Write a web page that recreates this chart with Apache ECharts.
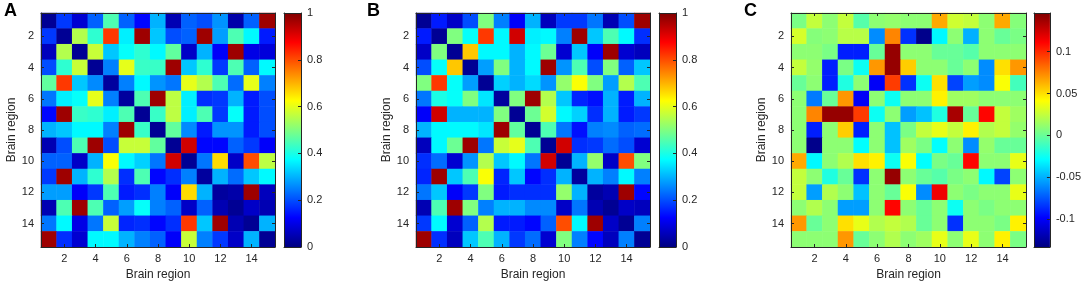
<!DOCTYPE html>
<html><head><meta charset="utf-8">
<script src="https://cdn.jsdelivr.net/npm/echarts@6/dist/echarts.min.js"></script>
<style>html,body{margin:0;padding:0;background:#fff}#c{width:1084px;height:288px}</style>
</head><body><div id="c"></div>
<script>
// ---------- data ----------
const regions = ['1','2','3','4','5','6','7','8','9','10','11','12','13','14','15'];
const panelLetters = ['A', 'B', 'C'];
const axisTitle = 'Brain region';

const matA = [
  [0.02,0.18,0.08,0.22,0.45,0.22,0.13,0.30,0.05,0.22,0.20,0.27,0.04,0.22,0.97],
  [0.18,0.02,0.55,0.42,0.82,0.36,0.97,0.32,0.20,0.22,0.97,0.28,0.45,0.37,0.15],
  [0.06,0.55,0.02,0.57,0.32,0.38,0.42,0.37,0.47,0.07,0.30,0.12,0.97,0.10,0.09],
  [0.20,0.42,0.57,0.02,0.25,0.60,0.43,0.43,0.97,0.32,0.42,0.18,0.45,0.22,0.37],
  [0.47,0.82,0.32,0.26,0.03,0.25,0.37,0.27,0.24,0.60,0.55,0.45,0.23,0.60,0.25],
  [0.24,0.36,0.38,0.60,0.25,0.03,0.45,0.97,0.56,0.36,0.17,0.18,0.30,0.15,0.20],
  [0.13,0.97,0.43,0.42,0.36,0.45,0.02,0.43,0.56,0.36,0.45,0.18,0.38,0.15,0.20],
  [0.30,0.32,0.37,0.37,0.25,0.97,0.43,0.02,0.47,0.26,0.15,0.27,0.27,0.15,0.20],
  [0.05,0.20,0.45,0.97,0.20,0.57,0.57,0.47,0.02,0.92,0.13,0.13,0.22,0.18,0.12],
  [0.22,0.22,0.07,0.30,0.62,0.37,0.33,0.24,0.92,0.02,0.24,0.66,0.07,0.80,0.56],
  [0.18,0.97,0.30,0.42,0.55,0.17,0.45,0.13,0.17,0.25,0.03,0.30,0.23,0.32,0.37],
  [0.28,0.28,0.12,0.18,0.45,0.15,0.17,0.25,0.12,0.66,0.30,0.03,0.04,0.97,0.06],
  [0.05,0.45,0.97,0.45,0.22,0.28,0.38,0.25,0.22,0.07,0.22,0.05,0.02,0.07,0.05],
  [0.24,0.37,0.10,0.24,0.57,0.16,0.17,0.13,0.17,0.82,0.32,0.97,0.05,0.02,0.30],
  [0.97,0.17,0.08,0.37,0.37,0.30,0.25,0.22,0.12,0.57,0.25,0.18,0.07,0.30,0.02]
];
const matB = [
  [0.02,0.15,0.07,0.20,0.50,0.25,0.12,0.30,0.06,0.18,0.18,0.24,0.05,0.20,0.97],
  [0.15,0.02,0.50,0.38,0.82,0.37,0.92,0.36,0.37,0.25,0.97,0.32,0.45,0.37,0.17],
  [0.07,0.50,0.02,0.68,0.37,0.37,0.30,0.37,0.48,0.08,0.32,0.12,0.97,0.08,0.06],
  [0.20,0.38,0.68,0.02,0.28,0.50,0.30,0.37,0.97,0.27,0.45,0.20,0.50,0.22,0.32],
  [0.50,0.82,0.38,0.28,0.02,0.33,0.30,0.34,0.27,0.52,0.62,0.50,0.28,0.55,0.45],
  [0.24,0.40,0.38,0.50,0.35,0.03,0.50,0.97,0.55,0.32,0.16,0.14,0.30,0.15,0.30],
  [0.12,0.92,0.30,0.30,0.30,0.50,0.02,0.48,0.58,0.37,0.33,0.17,0.30,0.15,0.18],
  [0.30,0.37,0.37,0.37,0.35,0.97,0.47,0.02,0.45,0.24,0.14,0.25,0.26,0.22,0.23],
  [0.06,0.37,0.48,0.97,0.24,0.57,0.60,0.45,0.02,0.92,0.17,0.18,0.23,0.20,0.08],
  [0.17,0.23,0.08,0.27,0.55,0.32,0.37,0.24,0.92,0.02,0.30,0.52,0.07,0.80,0.50],
  [0.16,0.97,0.32,0.45,0.62,0.16,0.32,0.13,0.17,0.30,0.03,0.30,0.25,0.37,0.25],
  [0.24,0.32,0.12,0.18,0.50,0.15,0.17,0.17,0.17,0.52,0.30,0.03,0.05,0.97,0.13],
  [0.05,0.45,0.97,0.50,0.25,0.30,0.30,0.26,0.26,0.07,0.24,0.05,0.02,0.07,0.06],
  [0.18,0.37,0.08,0.22,0.55,0.15,0.15,0.13,0.22,0.80,0.37,0.97,0.07,0.02,0.25],
  [0.97,0.17,0.06,0.32,0.45,0.30,0.18,0.23,0.08,0.50,0.25,0.13,0.06,0.25,0.02]
];
const matC = [
  [0.005,0.025,0.01,0.025,-0.005,0.01,0.012,0.01,0.01,0.065,0.028,0.025,0.01,0.065,0.008],
  [0.03,0.008,0.01,0.022,0.022,-0.06,0.075,-0.085,-0.13,-0.03,0.01,-0.05,0.01,0.0,0.005],
  [0.01,0.01,0.005,-0.09,-0.09,0.0,0.14,0.01,0.01,0.0,0.0,-0.005,0.01,0.01,0.01],
  [0.025,0.012,-0.09,0.005,-0.025,0.07,0.14,0.055,0.01,0.01,0.0,0.01,-0.06,0.05,0.07],
  [0.0,0.01,-0.09,-0.02,0.01,-0.1,0.095,-0.085,-0.025,0.05,-0.08,-0.055,-0.06,0.04,-0.01],
  [0.01,-0.065,0.0,0.07,-0.1,0.01,-0.025,0.01,0.01,0.045,0.015,0.015,0.01,0.01,0.01],
  [0.01,0.075,0.14,0.14,0.095,-0.025,0.01,-0.055,-0.045,-0.02,0.135,0.0,0.11,0.025,0.015],
  [0.01,-0.09,0.01,0.055,-0.09,0.01,-0.045,0.005,0.025,0.035,0.025,0.045,0.02,0.025,0.012],
  [0.01,-0.13,0.01,0.01,-0.028,0.01,-0.045,0.015,0.005,-0.028,0.01,-0.06,0.012,0.0,0.0],
  [0.065,-0.03,0.01,0.02,0.05,0.045,-0.025,0.04,-0.028,0.005,0.0,0.11,0.01,0.01,0.035],
  [0.025,0.01,-0.02,0.0,-0.085,0.01,0.14,0.01,0.0,-0.005,0.005,0.01,-0.03,-0.08,0.01],
  [0.025,-0.055,0.02,0.01,-0.045,0.01,0.0,0.04,-0.06,0.115,0.01,0.005,0.01,0.01,0.035],
  [0.01,0.02,0.01,-0.055,-0.055,0.01,0.11,0.01,0.0,0.01,-0.025,0.01,0.005,0.01,0.01],
  [0.07,0.0,0.01,0.05,0.035,0.02,0.025,0.02,0.0,0.01,-0.085,0.01,0.01,0.005,0.045],
  [0.01,0.01,0.01,0.07,0.0,0.01,0.02,0.01,0.015,0.035,0.01,0.035,0.01,0.045,0.005]
];
const rangeA = [0, 1];
const rangeB = [0, 1];
const rangeC = [-0.133, 0.146];
const cbTicksAB = [0, 0.2, 0.4, 0.6, 0.8, 1];
const cbTicksC = [-0.1, -0.05, 0, 0.05, 0.1];

// ---------- styling / layout ----------
const FONT = "'Liberation Sans', Arial, Helvetica, sans-serif";
const INK = '#262626';
const jet = ['#000080','#0000ff','#0080ff','#00ffff','#80ff80','#ffff00','#ff8000','#ff0000','#800000'];
const panels = [
  {mat: matA, range: rangeA, ticks: cbTicksAB, hm: {left: 41, width: 234}, cb: {left: 284, width: 17}},
  {mat: matB, range: rangeB, ticks: cbTicksAB, hm: {left: 416, width: 234}, cb: {left: 659, width: 17}},
  {mat: matC, range: rangeC, ticks: cbTicksC, hm: {left: 791, width: 235}, cb: {left: 1034, width: 18}}
];
const letterLeft = [4, 367, 744];
const TOP = 13, H = 234;

const evenIdx = (i) => i % 2 === 1;
const grid = [], xAxis = [], yAxis = [], series = [], visualMap = [], title = [];

panels.forEach((p, k) => {
  const gH = grid.length;
  grid.push({left: p.hm.left, width: p.hm.width, top: TOP, height: H, containLabel: false});
  const gC = grid.length;
  grid.push({left: p.cb.left, width: p.cb.width, top: TOP, height: H, containLabel: false});

  const lineStyle = {color: INK, width: 1};
  const tick = {show: true, inside: true, length: 3, interval: evenIdx, alignWithLabel: true, lineStyle};
  const xi = xAxis.length;
  xAxis.push({gridIndex: gH, type: 'category', data: regions, position: 'bottom', z: 10,
    axisLine: {show: true, onZero: false, lineStyle}, axisTick: tick,
    axisLabel: {interval: evenIdx, margin: 6, color: INK, fontSize: 11, fontFamily: FONT},
    name: axisTitle, nameLocation: 'middle', nameGap: 22,
    nameTextStyle: {color: INK, fontSize: 12, fontFamily: FONT}, splitLine: {show: false}});
  xAxis.push({gridIndex: gH, type: 'category', data: regions, position: 'top', z: 10,
    axisLine: {show: true, onZero: false, lineStyle}, axisTick: tick, axisLabel: {show: false}});
  const yi = yAxis.length;
  yAxis.push({gridIndex: gH, type: 'category', data: regions, inverse: true, position: 'left', z: 10,
    axisLine: {show: true, onZero: false, lineStyle}, axisTick: tick,
    axisLabel: {interval: evenIdx, margin: 7, color: INK, fontSize: 11, fontFamily: FONT},
    name: axisTitle, nameLocation: 'middle', nameGap: 20,
    nameTextStyle: {color: INK, fontSize: 12, fontFamily: FONT}, splitLine: {show: false}});
  yAxis.push({gridIndex: gH, type: 'category', data: regions, inverse: true, position: 'right', z: 10,
    axisLine: {show: true, onZero: false, lineStyle}, axisTick: tick, axisLabel: {show: false}});

  const data = [];
  p.mat.forEach((row, r) => row.forEach((v, c) => data.push([c, r, v])));
  const si = series.length;
  series.push({type: 'heatmap', xAxisIndex: xi, yAxisIndex: yi, data, progressive: 0,
    itemStyle: {borderWidth: 0}, emphasis: {disabled: true}});
  visualMap.push({type: 'continuous', show: false, seriesIndex: si, dimension: 2,
    min: p.range[0], max: p.range[1], inRange: {color: jet}});

  // colorbar
  const cxi = xAxis.length;
  xAxis.push({gridIndex: gC, type: 'value', min: 0, max: 1, position: 'bottom', z: 10,
    axisLine: {show: true, onZero: false, lineStyle}, axisTick: {show: false}, axisLabel: {show: false}, splitLine: {show: false}});
  xAxis.push({gridIndex: gC, type: 'value', min: 0, max: 1, position: 'top', z: 10,
    axisLine: {show: true, onZero: false, lineStyle}, axisTick: {show: false}, axisLabel: {show: false}, splitLine: {show: false}});
  const cyi = yAxis.length;
  yAxis.push({gridIndex: gC, type: 'value', min: p.range[0], max: p.range[1], position: 'right', z: 10,
    axisLine: {show: true, onZero: false, lineStyle},
    axisTick: {show: true, inside: true, length: 3, customValues: p.ticks, lineStyle},
    axisLabel: {customValues: p.ticks, margin: 6, color: INK, fontSize: 11, fontFamily: FONT},
    splitLine: {show: false}});
  yAxis.push({gridIndex: gC, type: 'value', min: p.range[0], max: p.range[1], position: 'left', z: 10,
    axisLine: {show: true, onZero: false, lineStyle}, axisTick: {show: false}, axisLabel: {show: false}, splitLine: {show: false}});
  const stops = jet.map((c, i) => ({offset: i / (jet.length - 1), color: c}));
  series.push({type: 'custom', xAxisIndex: cxi, yAxisIndex: cyi, silent: true,
    data: [[0, p.range[0], 1, p.range[1]]],
    encode: {x: [0, 2], y: [1, 3]},
    renderItem: (params, api) => {
      const a = api.coord([api.value(0), api.value(1)]);
      const b = api.coord([api.value(2), api.value(3)]);
      return {type: 'rect',
        shape: {x: Math.min(a[0], b[0]), y: Math.min(a[1], b[1]), width: Math.abs(b[0] - a[0]), height: Math.abs(b[1] - a[1])},
        style: {fill: new echarts.graphic.LinearGradient(0, 1, 0, 0, stops)}};
    }});

  title.push({text: panelLetters[k], left: letterLeft[k], top: 2, padding: 0,
    textStyle: {fontSize: 18, fontWeight: 'bold', color: '#000', fontFamily: FONT}});
});

const chart = echarts.init(document.getElementById('c'), null, {renderer: 'canvas'});
chart.setOption({animation: false, backgroundColor: '#fff', title, grid, xAxis, yAxis, visualMap, series});
</script></body></html>
